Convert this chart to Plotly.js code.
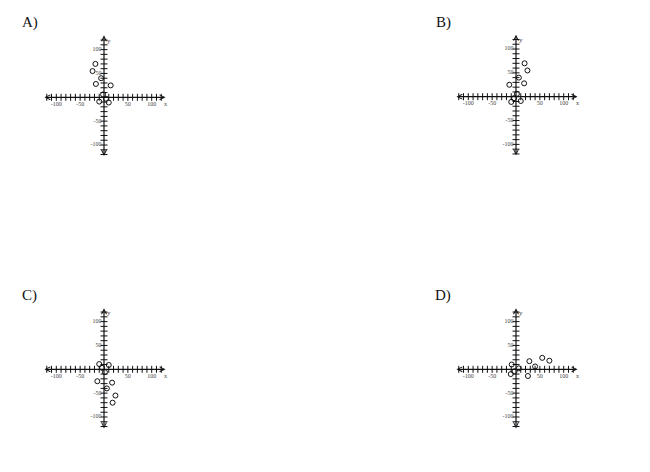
<!DOCTYPE html>
<html>
<head>
<meta charset="utf-8">
<script src="https://cdn.plot.ly/plotly-3.0.1.min.js"></script>
<style>
  html, body { margin: 0; padding: 0; background: #fff; }
  #chart { width: 650px; height: 472px; }
</style>
</head>
<body>
<div id="chart"></div>
<script>
// point sets
const aX = [-18, -24, -6, -17, 14, -2, 4, 10, -10];
const aY = [70, 55, 40, 28, 25, 6, -3, -11, -9];

const bX = [18, 24, 6, 17, -14, 2, -4, -10, 10];
const bY = [70, 55, 40, 28, 25, 6, -3, -11, -9];

const cX = [18, 24, 6, 17, -14, 2, -4, -10, 10];
const cY = [-70, -55, -40, -28, -25, -6, 3, 11, 9];

const dX = [70, 55, 40, 28, 25, 6, -3, -11, -9];
const dY = [18, 24, 6, 17, -14, 2, -4, -10, 10];

const tickVals = [-120, -110, -100, -90, -80, -70, -60, -50, -40, -30, -20, -10,
                  10, 20, 30, 40, 50, 60, 70, 80, 90, 100, 110, 120];
const labelVals = [-100, -50, 50, 100];
const labelText = ['-100', '-50', '50', '100'];

const S = 0.477; // px per unit
const W = 650, H = 472;
const serif = 'Liberation Serif, DejaVu Serif, serif';

const panels = [
    {name: 'A)', ox: 104, oy: 97.3, xs: aX, ys: aY, lx: 20, ly: 23, yTop: 130, yBot: -126},
    {name: 'B)', ox: 516, oy: 96.7, xs: bX, ys: bY, lx: 434, ly: 23, yTop: 130, yBot: -126},
    {name: 'C)', ox: 104, oy: 369.3, xs: cX, ys: cY, lx: 20, ly: 295, yTop: 128, yBot: -127},
    {name: 'D)', ox: 516, oy: 369.3, xs: dX, ys: dY, lx: 433, ly: 295, yTop: 128, yBot: -127}
];

const traces = [];
const layout = {
    width: W, height: H,
    margin: {l: 0, r: 0, t: 0, b: 0},
    paper_bgcolor: '#fff', plot_bgcolor: 'rgba(0,0,0,0)',
    showlegend: false,
    annotations: []
};

panels.forEach((p, i) => {
    const n = i + 1;
    const xr = n > 1 ? 'x' + n : 'x';
    const yr = n > 1 ? 'y' + n : 'y';
    const left = 80, right = 80, up = 75, down = 70;

    layout[n > 1 ? 'xaxis' + n : 'xaxis'] = {
        domain: [(p.ox - left) / W, (p.ox + right) / W],
        range: [-left / S, right / S],
        visible: false, fixedrange: true, anchor: yr
    };
    layout[n > 1 ? 'yaxis' + n : 'yaxis'] = {
        domain: [1 - (p.oy + down) / H, 1 - (p.oy - up) / H],
        range: [-down / S, up / S],
        visible: false, fixedrange: true, anchor: xr
    };

    // tick marks across the axes
    traces.push({
        x: tickVals, y: tickVals.map(() => 0), xaxis: xr, yaxis: yr,
        mode: 'markers', hoverinfo: 'skip',
        marker: {symbol: 'line-ns-open', size: 5, color: '#111', line: {color: '#111', width: 1}}
    });
    traces.push({
        x: tickVals.map(() => 0), y: tickVals, xaxis: xr, yaxis: yr,
        mode: 'markers', hoverinfo: 'skip',
        marker: {symbol: 'line-ew-open', size: 5, color: '#111', line: {color: '#111', width: 1}}
    });
    // tick labels
    traces.push({
        x: labelVals, y: labelVals.map(() => -9), xaxis: xr, yaxis: yr,
        mode: 'text', text: labelText, textposition: 'bottom center', hoverinfo: 'skip',
        textfont: {family: serif, size: 6, color: '#444'}
    });
    traces.push({
        x: labelVals.map(() => -5), y: labelVals, xaxis: xr, yaxis: yr,
        mode: 'text', text: labelText, textposition: 'middle left', hoverinfo: 'skip',
        textfont: {family: serif, size: 6, color: '#444'}
    });
    // the points
    traces.push({
        x: p.xs, y: p.ys, xaxis: xr, yaxis: yr,
        mode: 'markers', hoverinfo: 'skip',
        marker: {symbol: 'circle-open', size: 5, color: '#111', line: {color: '#111', width: 1}}
    });

    // axis lines with arrowheads at both ends
    layout.annotations.push({
        xref: xr, yref: yr, axref: xr, ayref: yr,
        x: 129, y: 0, ax: -128, ay: 0, text: '',
        showarrow: true, arrowside: 'end+start', arrowhead: 5, arrowsize: 0.8,
        arrowwidth: 1.2, arrowcolor: '#111', standoff: 0, startstandoff: 0
    });
    layout.annotations.push({
        xref: xr, yref: yr, axref: xr, ayref: yr,
        x: 0, y: p.yTop, ax: 0, ay: p.yBot, text: '',
        showarrow: true, arrowside: 'end+start', arrowhead: 5, arrowsize: 0.8,
        arrowwidth: 1.2, arrowcolor: '#111', standoff: 0, startstandoff: 0
    });
    // axis names
    layout.annotations.push({
        xref: xr, yref: yr, x: 128, y: -14, text: 'x', showarrow: false,
        font: {family: serif, size: 6, color: '#444'}
    });
    layout.annotations.push({
        xref: xr, yref: yr, x: 10, y: 118, text: 'y', showarrow: false,
        font: {family: serif, size: 7, color: '#444'}
    });
    // panel letter
    layout.annotations.push({
        xref: 'paper', yref: 'paper', x: p.lx / W, y: 1 - p.ly / H,
        xanchor: 'left', yanchor: 'middle', text: p.name, showarrow: false,
        font: {family: 'Palatino Linotype, Book Antiqua, ' + serif, size: 15, color: '#111'}
    });
});

Plotly.newPlot('chart', traces, layout, {staticPlot: true});
</script>
</body>
</html>
